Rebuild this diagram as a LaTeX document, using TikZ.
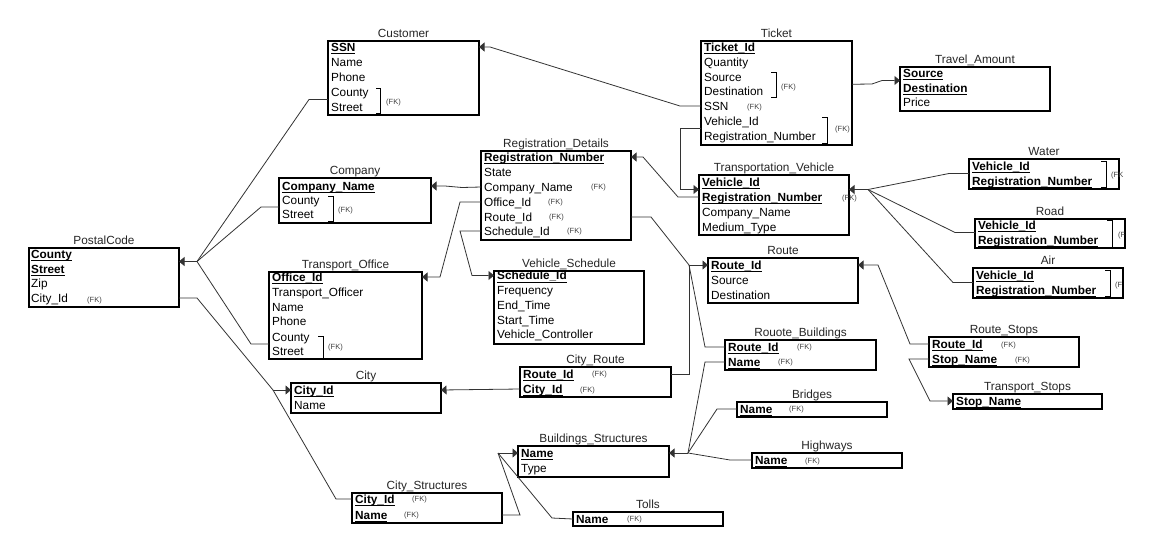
\documentclass[tikz,border=0pt]{standalone}
\usepackage{fontspec}
\setmainfont{Liberation Sans}
\usetikzlibrary{arrows.meta,calc}
% primary key field: bold, with a rule just under the baseline
\newcommand\pk[1]{\setbox0\hbox{\textbf{#1}}\rlap{\rule[-2.6pt]{\wd0}{0.7pt}}\box0}
% table box with its title above: name, x, y (top left), width, height, title
\newcommand\erbox[6]{%
  \node[tbl,minimum width=#4pt,minimum height=#5pt] (#1) at (#2,#3) {};
  \node[ttl] (#1-t) at ([yshift=4pt]#1.north) {#6};}
\begin{document}
\begin{tikzpicture}[x=1pt,y=-1pt,
  tbl/.style={draw,line width=1.1pt,anchor=north west,inner sep=0pt,outer sep=0pt},
  ttl/.style={anchor=base,inner sep=0pt,text=black!85,font=\fontsize{11.8}{13}\selectfont},
  fld/.style={anchor=west,inner sep=0pt,text height=8.4pt,text depth=0pt,font=\fontsize{11.8}{13}\selectfont},
  fk/.style={anchor=west,inner sep=0pt,text height=5.5pt,text depth=0pt,text=black!75,font=\fontsize{7.5}{9}\selectfont},
  brk/.style={draw,line width=0.8pt},
  conn/.style={draw=black!80,line width=0.8pt},
  arr/.style={conn,-{Triangle[length=5.5pt,width=9pt]}}]
\useasboundingbox[fill=white] (0,0) rectangle (1151,552);

% ---------------- Customer
\erbox{cust}{328}{41}{151}{74}{Customer}
\node[fld] (cust-ssn) at (331,47) {\pk{SSN}};
\node[fld] (cust-name) at (331,62) {Name};
\node[fld] (cust-phone) at (331,77) {Phone};
\node[fld] (cust-county) at (331,92) {County};
\node[fld] (cust-street) at (331,107) {Street};
\draw[brk] (376,88) -| (380,113) -- (376,113);
\node[fk] (cust-fk1) at (386,102) {(FK)};

% ---------------- Ticket
\erbox{tkt}{701}{41}{151}{104}{Ticket}
\node[fld] (tkt-id) at (704,47) {\pk{Ticket\_Id}};
\node[fld] (tkt-qty) at (704,62) {Quantity};
\node[fld] (tkt-src) at (704,77) {Source};
\node[fld] (tkt-dst) at (704,91.5) {Destination};
\node[fld] (tkt-ssn) at (704,106) {SSN};
\node[fld] (tkt-vid) at (704,121) {Vehicle\_Id};
\node[fld] (tkt-reg) at (704,136) {Registration\_Number};
\draw[brk] (771,72) -| (776,97) -- (771,97);
\node[fk] (tkt-fk1) at (781,87) {(FK)};
\node[fk] (tkt-fk2) at (747,107) {(FK)};
\draw[brk] (822,117) -| (827,143) -- (822,143);
\node[fk] (tkt-fk3) at (835,129) {(FK)};

% ---------------- Travel_Amount
\erbox{ta}{900}{67}{150}{44}{Travel\_Amount}
\node[fld] (ta-src) at (903,73) {\pk{Source}};
\node[fld] (ta-dst) at (903,88) {\pk{Destination}};
\node[fld] (ta-price) at (903,102) {Price};

% ---------------- Company
\erbox{comp}{279}{178}{152}{45}{Company}
\node[fld] (comp-name) at (282,186) {\pk{Company\_Name}};
\node[fld] (comp-county) at (282,200) {County};
\node[fld] (comp-street) at (282,214) {Street};
\draw[brk] (328,196) -| (333,221) -- (328,221);
\node[fk] (comp-fk1) at (338,210) {(FK)};

% ---------------- Registration_Details
\erbox{rd}{481}{151}{150}{89}{Registration\_Details}
\node[fld] (rd-reg) at (484,157) {\pk{Registration\_Number}};
\node[fld] (rd-state) at (484,172) {State};
\node[fld] (rd-comp) at (484,187) {Company\_Name};
\node[fld] (rd-off) at (484,202) {Office\_Id};
\node[fld] (rd-rte) at (484,217) {Route\_Id};
\node[fld] (rd-sch) at (484,231) {Schedule\_Id};
\node[fk] (rd-fk1) at (591,187) {(FK)};
\node[fk] (rd-fk2) at (548,202) {(FK)};
\node[fk] (rd-fk3) at (549,217) {(FK)};
\node[fk] (rd-fk4) at (567,231) {(FK)};

% ---------------- Transportation_Vehicle
\erbox{tv}{699}{175}{150}{60}{Transportation\_Vehicle}
\node[fld] (tv-vid) at (702,182) {\pk{Vehicle\_Id}};
\node[fld] (tv-reg) at (702,197) {\pk{Registration\_Number}};
\node[fld] (tv-comp) at (702,212) {Company\_Name};
\node[fld] (tv-med) at (702,227) {Medium\_Type};
\node[fk] (tv-fk1) at (842,198) {(FK)};

% ---------------- Water / Road / Air
\erbox{wat}{969}{159}{150}{30}{Water}
\node[fld] (wat-vid) at (972,166) {\pk{Vehicle\_Id}};
\node[fld] (wat-reg) at (972,181) {\pk{Registration\_Number}};
\draw[brk] (1101,161) -| (1106,187) -- (1101,187);
\node[fk] (wat-fk) at (1111,175) {(FK};

\erbox{road}{975}{219}{150}{29}{Road}
\node[fld] (road-vid) at (978,225) {\pk{Vehicle\_Id}};
\node[fld] (road-reg) at (978,240) {\pk{Registration\_Number}};
\draw[brk] (1107,220) -| (1112,247) -- (1107,247);
\node[fk] (road-fk) at (1118,235) {(F};

\erbox{air}{973}{268}{150}{30}{Air}
\node[fld] (air-vid) at (976,275) {\pk{Vehicle\_Id}};
\node[fld] (air-reg) at (976,290) {\pk{Registration\_Number}};
\draw[brk] (1105,270) -| (1110,296) -- (1105,296);
\node[fk] (air-fk) at (1115,285) {(F};

% ---------------- PostalCode
\erbox{pc}{29}{248}{150}{59}{PostalCode}
\node[fld] (pc-county) at (31,254) {\pk{County}};
\node[fld] (pc-street) at (31,269) {\pk{Street}};
\node[fld] (pc-zip) at (31,283) {Zip};
\node[fld] (pc-cid) at (31,298) {City\_Id};
\node[fk] (pc-fk) at (87,300) {(FK)};

% ---------------- Transport_Office
\erbox{to}{269}{272}{153}{87}{Transport\_Office}
\node[fld] (to-id) at (272,277) {\pk{Office\_Id}};
\node[fld] (to-off) at (272,292) {Transport\_Officer};
\node[fld] (to-name) at (272,307) {Name};
\node[fld] (to-phone) at (272,321) {Phone};
\node[fld] (to-county) at (272,337) {County};
\node[fld] (to-street) at (272,351) {Street};
\draw[brk] (318,336) -| (323,358) -- (318,358);
\node[fk] (to-fk) at (328,347) {(FK)};

% ---------------- Vehicle_Schedule
\erbox{vs}{494}{271}{150}{73}{Vehicle\_Schedule}
\node[fld] (vs-id) at (497,275.5) {\pk{Schedule\_Id}};
\node[fld] (vs-freq) at (497,290) {Frequency};
\node[fld] (vs-end) at (497,305) {End\_Time};
\node[fld] (vs-start) at (497,320) {Start\_Time};
\node[fld] (vs-ctrl) at (497,334) {Vehicle\_Controller};

% ---------------- Route
\erbox{rte}{708}{258}{150}{45}{Route}
\node[fld] (rte-id) at (711,265) {\pk{Route\_Id}};
\node[fld] (rte-src) at (711,280) {Source};
\node[fld] (rte-dst) at (711,295) {Destination};

% ---------------- Rouote_Buildings
\erbox{rb}{725}{340}{151}{30}{Rouote\_Buildings}
\node[fld] (rb-rid) at (728,347) {\pk{Route\_Id}};
\node[fld] (rb-name) at (728,362) {\pk{Name}};
\node[fk] (rb-fk1) at (797,347) {(FK)};
\node[fk] (rb-fk2) at (778,362) {(FK)};

% ---------------- Route_Stops
\erbox{rs}{929}{337}{150}{30}{Route\_Stops}
\node[fld] (rs-rid) at (932,344) {\pk{Route\_Id}};
\node[fld] (rs-stop) at (932,359) {\pk{Stop\_Name}};
\node[fk] (rs-fk1) at (1001,345) {(FK)};
\node[fk] (rs-fk2) at (1015,360) {(FK)};

% ---------------- Transport_Stops
\erbox{ts}{953}{394}{149}{15}{Transport\_Stops}
\node[fld] (ts-stop) at (956,401) {\pk{Stop\_Name}};

% ---------------- City_Route
\erbox{cr}{520}{367}{151}{30}{City\_Route}
\node[fld] (cr-rid) at (523,374) {\pk{Route\_Id}};
\node[fld] (cr-cid) at (523,389) {\pk{City\_Id}};
\node[fk] (cr-fk1) at (592,374) {(FK)};
\node[fk] (cr-fk2) at (580,390) {(FK)};

% ---------------- City
\erbox{city}{291}{383}{150}{30}{City}
\node[fld] (city-id) at (294,390) {\pk{City\_Id}};
\node[fld] (city-name) at (294,405) {Name};

% ---------------- Bridges / Highways / Tolls
\erbox{br}{737}{402}{150}{15}{Bridges}
\node[fld] (br-name) at (740,409) {\pk{Name}};
\node[fk] (br-fk) at (789,409) {(FK)};

\erbox{hw}{752}{453}{150}{15}{Highways}
\node[fld] (hw-name) at (755,460) {\pk{Name}};
\node[fk] (hw-fk) at (805,461) {(FK)};

\erbox{tol}{573}{512}{150}{14}{Tolls}
\node[fld] (tol-name) at (576,519) {\pk{Name}};
\node[fk] (tol-fk) at (627,519) {(FK)};

% ---------------- Buildings_Structures
\erbox{bs}{518}{446}{151}{31}{Buildings\_Structures}
\node[fld] (bs-name) at (521,453) {\pk{Name}};
\node[fld] (bs-type) at (521,468) {Type};

% ---------------- City_Structures
\erbox{cs}{352}{493}{150}{30}{City\_Structures}
\node[fld] (cs-cid) at (355,499) {\pk{City\_Id}};
\node[fld] (cs-name) at (355,515) {\pk{Name}};
\node[fk] (cs-fk1) at (412,499) {(FK)};
\node[fk] (cs-fk2) at (404,515) {(FK)};

% ---------------- attachment points between two rows
\coordinate (cust-fk) at ($(cust-county)!.5!(cust-street)$);
\coordinate (comp-fk) at ($(comp-county)!.5!(comp-street)$);
\coordinate (to-fk) at ($(to-county)!.5!(to-street)$);
\coordinate (pc-k) at ($(pc-county)!.5!(pc-street)$);
\coordinate (tkt-sd) at ($(tkt-src)!.5!(tkt-dst)$);
\coordinate (tkt-vk) at ($(tkt-vid)!.5!(tkt-reg)$);
\coordinate (ta-k) at ($(ta-src)!.5!(ta-dst)$);
\coordinate (tv-k) at ($(tv-vid)!.5!(tv-reg)$);
\coordinate (wat-k) at ($(wat-vid)!.5!(wat-reg)$);
\coordinate (road-k) at ($(road-vid)!.5!(road-reg)$);
\coordinate (air-k) at ($(air-vid)!.5!(air-reg)$);

% ---------------- junction points
\coordinate (phub) at (197,261.5);
\coordinate (chub) at (273,390);
\coordinate (vhub) at (868,189.5);
\coordinate (rhub) at (689,265);
\coordinate (bhubR) at (688,453);
\coordinate (bhubL) at (498,453);

% ---------------- relationships
% Ticket
\draw[arr] (tkt.west |- tkt-ssn) -- (680,106) -- (490,47) -- (cust.east |- cust-ssn);
\draw[arr] (tkt.west |- tkt-vk) -- ++(-21,0) |- (tv.west |- tv-k);
\draw[arr] (tkt.east |- tkt-sd) -- (872,84) -- (882,80.5) -- (ta.west |- ta-k);

% Transportation_Vehicle
\draw[arr] (tv.west |- tv-reg) -- (678,197) -- (643,157) -- (rd.east |- rd-reg);
\draw[arr] (vhub) -- (tv.east |- tv-k);
\draw[conn] (wat.west |- wat-k) -- (949,173.5) -- (vhub);
\draw[conn] (road.west |- road-k) -- (955,232.5) -- (vhub);
\draw[conn] (air.west |- air-k) -- (953,282.5) -- (vhub);

% Registration_Details
\draw[arr] (rd.west |- rd-comp) -- (462,187.5) -- (445,186) -- (comp.east |- comp-name);
\draw[arr] (rd.west |- rd-off) -- (460,202) -- (440,277) -- (to.east |- to-id);
\draw[arr] (rd.west |- rd-sch) -- (460,231) -- (472,275.5) -- (vs.west |- vs-id);

% Route
\draw[arr] (rhub) -- (rte.west |- rte-id);
\draw[conn] (rd.east |- rd-rte) -- (651,217) -- (rhub);
\draw[conn] (cr.east |- cr-rid) -- (689,374) -- (rhub);
\draw[conn] (rb.west |- rb-rid) -- (705,347) -- (rhub);
\draw[arr] (rs.west |- rs-rid) -- (910,344) -- (878,265) -- (rte.east |- rte-id);
\draw[arr] (rs.west |- rs-stop) -- (909,359) -- (930,401) -- (ts.west |- ts-stop);

% Buildings_Structures
\draw[arr] (bhubR) -- (bs.east |- bs-name);
\draw[conn] (rb.west |- rb-name) -- (705,362) -- (bhubR);
\draw[conn] (br.west |- br-name) -- (717,409) -- (bhubR);
\draw[conn] (hw.west |- hw-name) -- (730,460) -- (bhubR);
\draw[arr] (bhubL) -- (bs.west |- bs-name);
\draw[conn] (cs.east |- cs-name) -- (520,515) -- (bhubL);
\draw[conn] (tol.west |- tol-name) -- (552,518) -- (bhubL);

% City
\draw[arr] (cr.west |- cr-cid) -- (city.east |- city-id);
\draw[arr] (chub) -- (city.west |- city-id);
\draw[conn] (pc.east |- pc-cid) -- (197,298) -- (chub);
\draw[conn] (cs.west |- cs-cid) -- (336,499) -- (chub);

% PostalCode
\draw[arr] (phub) -- (pc.east |- pc-k);
\draw[conn] (cust.west |- cust-fk) -- (309,99.5) -- (phub);
\draw[conn] (comp.west |- comp-fk) -- (261,207) -- (phub);
\draw[conn] (to.west |- to-fk) -- (251,344) -- (phub);
\end{tikzpicture}
\end{document}
